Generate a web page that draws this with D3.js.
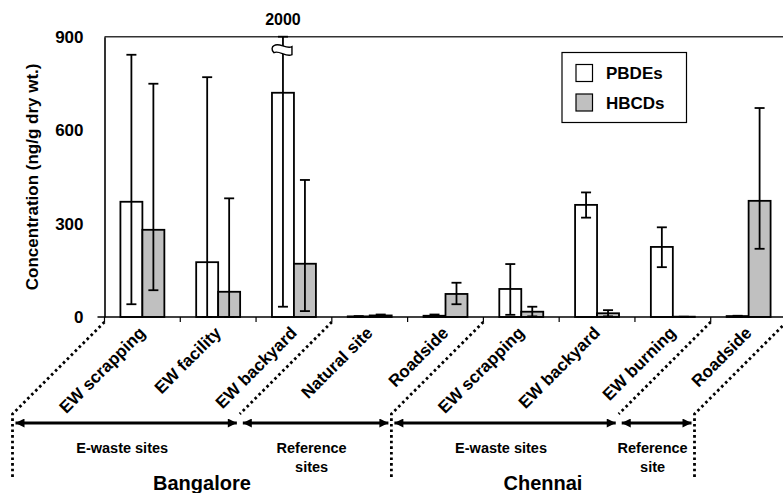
<!DOCTYPE html>
<html>
<head>
<meta charset="utf-8">
<script src="https://cdnjs.cloudflare.com/ajax/libs/d3/7.8.5/d3.min.js"></script>
<style>
  body { margin: 0; background: #fff; }
  svg { display: block; font-family: "Liberation Sans", Arial, sans-serif; font-weight: bold; }
</style>
</head>
<body>
<svg width="783" height="493"></svg>
<script>
// sites along the x axis (Bangalore first five, Chennai last four)
var categories = ["EW scrapping", "EW facility", "EW backyard", "Natural site", "Roadside",
                  "EW scrapping", "EW backyard", "EW burning", "Roadside"];
var seriesNames = ["PBDEs", "HBCDs"];
var seriesFill = ["#ffffff", "#c0c0c0"];

var pbdeMean = [370, 176, 720, 2, 4, 90, 360, 225, 3];
var pbdeLow  = [41, 0, 33, 0, 1, 7, 319, 160, 1];
var pbdeHigh = [842, 770, 2000, 3, 8, 170, 400, 288, 4];

var hbcdMean = [280, 81, 171, 5, 74, 17, 12, 1, 373];
var hbcdLow  = [86, 0, 19, 2, 41, 2, 2, 0, 219];
var hbcdHigh = [749, 381, 440, 8, 110, 33, 22, 1, 671];

var yTicks = [0, 300, 600, 900];

// site groups, given as band boundaries (0..9)
var groups = [
  {lines: ["E-waste sites"], from: 0, to: 3},
  {lines: ["Reference", "sites"], from: 3, to: 5},
  {lines: ["E-waste sites"], from: 5, to: 8},
  {lines: ["Reference", "site"], from: 8, to: 9}
];
var cities = [
  {name: "Bangalore", from: 0, to: 5},
  {name: "Chennai", from: 5, to: 9}
];
var groupBounds = [0, 3, 5, 8, 9];
var cityBounds = [0, 5, 9];

var svg = d3.select("svg"),
    mLeft = 104.5, mRight = 786.5, mTop = 36.7, mBottom = 317;

var x = d3.scaleBand()
    .domain(d3.range(categories.length))
    .range([mLeft, mRight])
    .paddingInner(0.42)
    .paddingOuter(0.21);

var xs = d3.scaleBand()
    .domain([0, 1])
    .range([0, x.bandwidth()]);

var y = d3.scaleLinear()
    .domain([0, 900])
    .range([mBottom, mTop])
    .clamp(true);

function bound(k) { return mLeft + k * x.step(); }

var data = [];
categories.forEach(function(c, i) {
  data.push({i: i, s: 0, v: pbdeMean[i], lo: pbdeLow[i], hi: pbdeHigh[i]});
  data.push({i: i, s: 1, v: hbcdMean[i], lo: hbcdLow[i], hi: hbcdHigh[i]});
});

// top frame line
svg.append("line")
  .attr("x1", mLeft).attr("x2", mRight)
  .attr("y1", y(900)).attr("y2", y(900))
  .attr("stroke", "#333").attr("stroke-width", 1.6);

// bars
svg.append("g").selectAll("rect")
  .data(data)
  .enter().append("rect")
    .attr("x", function(d) { return x(d.i) + xs(d.s); })
    .attr("y", function(d) { return y(d.v); })
    .attr("width", xs.bandwidth())
    .attr("height", function(d) { return y(0) - y(d.v); })
    .attr("fill", function(d) { return seriesFill[d.s]; })
    .attr("stroke", "#000")
    .attr("stroke-width", 1.8);

// error bars
var eb = svg.append("g").attr("stroke", "#000").attr("stroke-width", 1.8);
data.forEach(function(d) {
  var cx = x(d.i) + xs(d.s) + xs.bandwidth() / 2;
  eb.append("line").attr("x1", cx).attr("x2", cx).attr("y1", y(d.lo)).attr("y2", y(d.hi));
  [d.lo, d.hi].forEach(function(v) {
    eb.append("line").attr("x1", cx - 5).attr("x2", cx + 5).attr("y1", y(v)).attr("y2", y(v));
  });
  if (d.hi > y.domain()[1]) {
    // axis break on the off-scale error bar
    eb.append("path")
      .attr("transform", "translate(" + cx + "," + y(855) + ")")
      .attr("d", "M-9,-5 C-4,-9 3,-1 9,-4 L9,4 C3,7 -4,-1 -9,2 C-12,-1 -11,-4 -9,-5 Z")
      .attr("fill", "#fff")
      .attr("stroke-width", 1.4);
    svg.append("text")
      .attr("x", cx).attr("y", 25)
      .attr("text-anchor", "middle")
      .style("font-size", "16px")
      .text(d.hi);
  }
});

// y axis
var yAxis = svg.append("g")
  .attr("transform", "translate(" + mLeft + ",0)")
  .call(d3.axisLeft(y).tickValues(yTicks).tickSize(0).tickPadding(21));
yAxis.select(".domain").attr("stroke", "#000").attr("stroke-width", 1.6);
yAxis.selectAll("text").style("font-size", "17px").attr("fill", "#000")
  .style("font-family", "'Liberation Sans', Arial, sans-serif").style("font-weight", "bold");

// x axis line and boundary ticks
svg.append("line")
  .attr("x1", mLeft - 7).attr("x2", mRight)
  .attr("y1", y(0)).attr("y2", y(0))
  .attr("stroke", "#000").attr("stroke-width", 1.6);
svg.append("g").selectAll("line")
  .data(d3.range(categories.length + 1))
  .enter().append("line")
    .attr("x1", bound).attr("x2", bound)
    .attr("y1", y(0)).attr("y2", y(0) + 5)
    .attr("stroke", "#000").attr("stroke-width", 1.2);

// category labels
var xAxis = svg.append("g")
  .attr("transform", "translate(0," + (y(0) + 17) + ")")
  .call(d3.axisBottom(x).tickSize(0).tickFormat(function(i) { return categories[i]; }));
xAxis.select(".domain").remove();
xAxis.selectAll("text")
  .attr("text-anchor", "end")
  .attr("dy", 0).attr("y", 0)
  .attr("transform", "translate(4,0) rotate(-45)")
  .attr("fill", "#000")
  .style("font-size", "17px")
  .style("font-family", "'Liberation Sans', Arial, sans-serif").style("font-weight", "bold");

// dotted separators
var sepTop = y(0) + 5, sepBot = 478, slant = 92;
svg.append("g").selectAll("path")
  .data(groupBounds)
  .enter().append("path")
    .attr("d", function(k) {
      var bx = bound(k);
      var p = "M" + bx + "," + sepTop + "L" + (bx - slant) + "," + (sepTop + slant);
      if (cityBounds.indexOf(k) >= 0) p += "L" + (bx - slant) + "," + sepBot;
      return p;
    })
    .attr("fill", "none")
    .attr("stroke", "#000")
    .attr("stroke-width", 2.8)
    .attr("stroke-dasharray", "2.6 3");

// arrow heads
svg.append("defs").append("marker")
  .attr("id", "head")
  .attr("viewBox", "0 0 10 10")
  .attr("refX", 10).attr("refY", 5)
  .attr("markerWidth", 3.4).attr("markerHeight", 3)
  .attr("markerUnits", "strokeWidth")
  .attr("orient", "auto-start-reverse")
  .append("path").attr("d", "M0,0 L10,5 L0,10 Z").attr("fill", "#000");

var arrowY = 423, gap = 3;
svg.append("g").selectAll("line")
  .data(groups)
  .enter().append("line")
    .attr("x1", function(g) { return bound(g.from) - slant + gap; })
    .attr("x2", function(g) { return bound(g.to) - slant - gap; })
    .attr("y1", arrowY).attr("y2", arrowY)
    .attr("stroke", "#000").attr("stroke-width", 3)
    .attr("marker-start", "url(#head)")
    .attr("marker-end", "url(#head)");

svg.append("g").selectAll("text")
  .data(groups)
  .enter().append("text")
    .attr("x", function(g) { return (bound(g.from) + bound(g.to)) / 2 - slant - 4; })
    .attr("y", 453)
    .attr("text-anchor", "middle")
    .style("font-size", "14.5px")
    .each(function(g) {
      var t = d3.select(this);
      g.lines.forEach(function(s, j) {
        t.append("tspan").attr("x", t.attr("x")).attr("dy", j ? 19 : 0).text(s);
      });
    });

svg.append("g").selectAll("text")
  .data(cities)
  .enter().append("text")
    .attr("x", function(c) { return (bound(c.from) + bound(c.to)) / 2 - slant; })
    .attr("y", 490)
    .attr("text-anchor", "middle")
    .style("font-size", "20px")
    .text(function(c) { return c.name; });

// y label
svg.append("text")
  .attr("transform", "translate(32," + (mTop + mBottom) / 2 + ") rotate(-90)")
  .attr("text-anchor", "middle")
  .attr("dominant-baseline", "central")
  .style("font-size", "17px")
  .text("Concentration (ng/g dry wt.)");

// legend
var lg = svg.append("g").attr("transform", "translate(562,52.5)");
lg.append("rect").attr("width", 124.5).attr("height", 70)
  .attr("fill", "#fff").attr("stroke", "#000").attr("stroke-width", 1.2);
seriesNames.forEach(function(s, j) {
  lg.append("rect")
    .attr("x", 14).attr("y", 12 + j * 29.5)
    .attr("width", 16.5).attr("height", 17)
    .attr("fill", seriesFill[j]).attr("stroke", "#000").attr("stroke-width", 1.2);
  lg.append("text")
    .attr("x", 44).attr("y", 26.5 + j * 29.5)
    .style("font-size", "17px")
    .text(s);
});
</script>
</body>
</html>
